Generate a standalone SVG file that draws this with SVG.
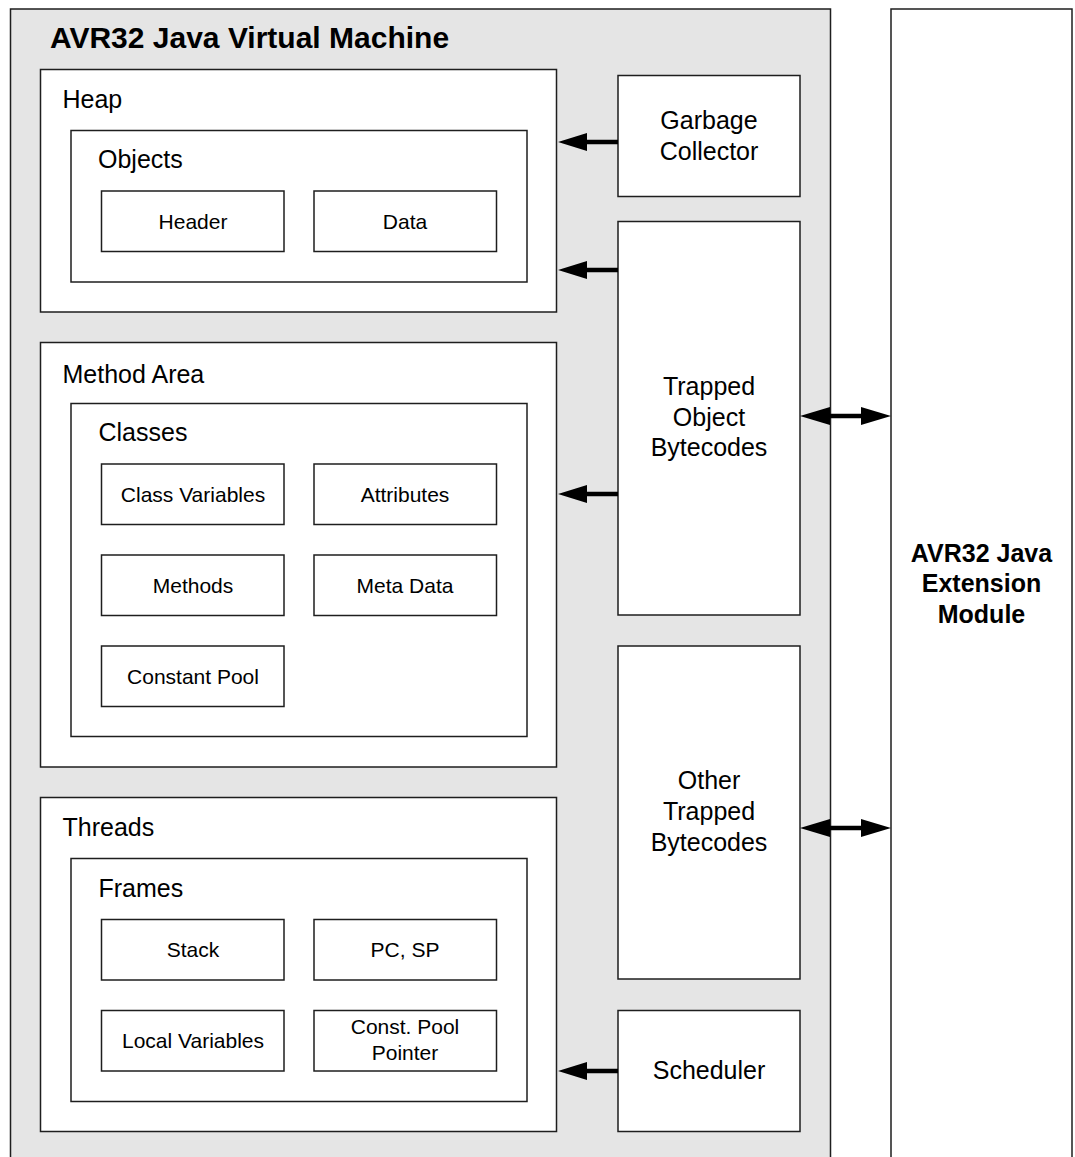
<svg xmlns="http://www.w3.org/2000/svg" width="1075" height="1157" viewBox="0 0 1075 1157">
<style>
.box{fill:#fff;stroke:#1e1e1e;stroke-width:1.5}
.gray{fill:#e5e5e5;stroke:#1e1e1e;stroke-width:1.5}
.t{font-family:"Liberation Sans",Arial,sans-serif;fill:#000}
.lbl{font-size:25px}
.sm{font-size:21px;text-anchor:middle}
.mid{font-size:25px;text-anchor:middle}
.bold{font-weight:bold}
.conn line{stroke:#000;stroke-width:4.5}
.conn polygon{fill:#000}
</style>
<rect width="1075" height="1157" fill="#fff"/>
<g id="jvm">
<rect class="gray" x="10.5" y="9" width="820" height="1160"/>
<text class="t bold" x="50" y="48" font-size="30">AVR32 Java Virtual Machine</text>
</g>
<g id="ext">
<rect class="box" x="891" y="9" width="181" height="1160"/>
<text class="t bold mid" x="981.5" y="562">AVR32 Java</text>
<text class="t bold mid" x="981.5" y="592">Extension</text>
<text class="t bold mid" x="981.5" y="623">Module</text>
</g>
<g id="heap">
<rect class="box" x="40.5" y="69.5" width="516" height="242.5"/>
<text class="t lbl" x="62.5" y="108">Heap</text>
</g>
<g id="objects">
<rect class="box" x="71" y="130.5" width="456" height="151.5"/>
<text class="t lbl" x="98" y="168">Objects</text>
</g>
<g id="header"><rect class="box" x="101.5" y="191" width="182.5" height="60.5"/><text class="t sm" x="193" y="229">Header</text></g>
<g id="data"><rect class="box" x="314" y="191" width="182.5" height="60.5"/><text class="t sm" x="405" y="229">Data</text></g>
<g id="methodarea">
<rect class="box" x="40.5" y="342.5" width="516" height="424.5"/>
<text class="t lbl" x="62.5" y="383">Method Area</text>
</g>
<g id="classes">
<rect class="box" x="71" y="403.5" width="456" height="333"/>
<text class="t lbl" x="98.5" y="441">Classes</text>
</g>
<g id="classvars"><rect class="box" x="101.5" y="464" width="182.5" height="60.5"/><text class="t sm" x="193" y="501.5">Class Variables</text></g>
<g id="attributes"><rect class="box" x="314" y="464" width="182.5" height="60.5"/><text class="t sm" x="405" y="501.5">Attributes</text></g>
<g id="methods"><rect class="box" x="101.5" y="555" width="182.5" height="60.5"/><text class="t sm" x="193" y="592.5">Methods</text></g>
<g id="metadata"><rect class="box" x="314" y="555" width="182.5" height="60.5"/><text class="t sm" x="405" y="592.5">Meta Data</text></g>
<g id="constpool"><rect class="box" x="101.5" y="646" width="182.5" height="60.5"/><text class="t sm" x="193" y="683.5">Constant Pool</text></g>
<g id="threads">
<rect class="box" x="40.5" y="797.5" width="516" height="334"/>
<text class="t lbl" x="62.5" y="836">Threads</text>
</g>
<g id="frames">
<rect class="box" x="71" y="858.5" width="456" height="243"/>
<text class="t lbl" x="98.5" y="897">Frames</text>
</g>
<g id="stack"><rect class="box" x="101.5" y="919.5" width="182.5" height="60.5"/><text class="t sm" x="193" y="956.5">Stack</text></g>
<g id="pcsp"><rect class="box" x="314" y="919.5" width="182.5" height="60.5"/><text class="t sm" x="405" y="956.5">PC, SP</text></g>
<g id="localvars"><rect class="box" x="101.5" y="1010.5" width="182.5" height="60.5"/><text class="t sm" x="193" y="1047.5">Local Variables</text></g>
<g id="cpptr"><rect class="box" x="314" y="1010.5" width="182.5" height="60.5"/><text class="t sm" x="405" y="1033.5">Const. Pool</text><text class="t sm" x="405" y="1059.5">Pointer</text></g>
<g id="gc"><rect class="box" x="618" y="75.5" width="182" height="121"/><text class="t mid" x="709" y="128.5">Garbage</text><text class="t mid" x="709" y="159.5">Collector</text></g>
<g id="tob"><rect class="box" x="618" y="221.5" width="182" height="393.5"/><text class="t mid" x="709" y="395">Trapped</text><text class="t mid" x="709" y="425.5">Object</text><text class="t mid" x="709" y="456">Bytecodes</text></g>
<g id="otb"><rect class="box" x="618" y="646" width="182" height="333"/><text class="t mid" x="709" y="788.5">Other</text><text class="t mid" x="709" y="820">Trapped</text><text class="t mid" x="709" y="851">Bytecodes</text></g>
<g id="sched"><rect class="box" x="618" y="1010.5" width="182" height="121"/><text class="t mid" x="709" y="1078.5">Scheduler</text></g>
<g id="connectors" class="conn">
<line x1="618" y1="142" x2="585" y2="142"/><polygon points="558,142 587,133 587,151"/>
<line x1="618" y1="270" x2="585" y2="270"/><polygon points="558,270 587,261 587,279"/>
<line x1="618" y1="494" x2="585" y2="494"/><polygon points="558,494 587,485 587,503"/>
<line x1="618" y1="1071" x2="585" y2="1071"/><polygon points="558,1071 587,1062 587,1080"/>
<line x1="828" y1="416" x2="863" y2="416"/><polygon points="800,416 830,407 830,425"/><polygon points="891,416 861,407 861,425"/>
<line x1="828" y1="828" x2="863" y2="828"/><polygon points="800,828 830,819 830,837"/><polygon points="891,828 861,819 861,837"/>
</g>
</svg>
